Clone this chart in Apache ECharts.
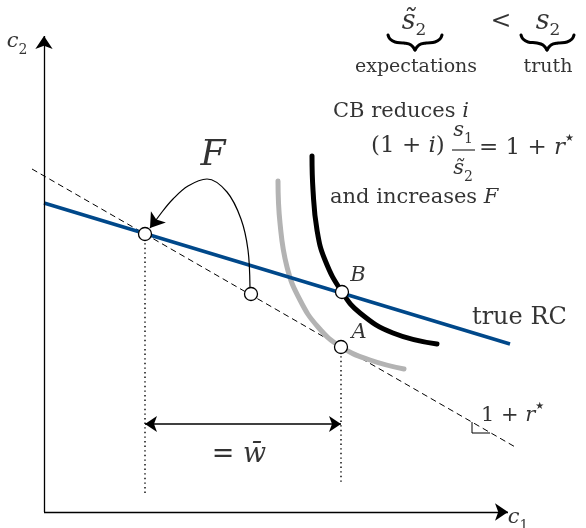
<!DOCTYPE html>
<html><head><meta charset="utf-8">
<script src="https://cdn.jsdelivr.net/npm/echarts@6/dist/echarts.min.js"></script>
<style>html,body{margin:0;padding:0;background:#fff}#c{width:586px;height:528px}</style>
</head><body><div id="c"></div>
<script>
// Diagram units: c1 on x, c2 on y (origin at the axes' corner)
const xMin = -44, xMax = 542, yMin = -16, yMax = 512;
const c1Axis = [[0, 0], [464, 0]];
const c2Axis = [[0, 0], [0, 476]];
const trueRC = [[0, 309], [466, 168]];
const expectedRC = [[-12, 343], [473, 64]];
const indiffHigh = [[268, 356], [269, 322], [273, 282], [281, 252], [298, 220], [316, 199], [349, 179], [393, 168]];
const indiffLow = [[234, 331], [236, 289], [243, 245], [256, 212], [274, 185], [297, 165], [326, 152], [360, 143]];
const points = [[101, 278], [207, 218], [298, 220], [297, 165]];
const dropLineLeft = [[101, 278], [101, 19]];
const dropLineRight = [[297, 165], [297, 29]];
const wBarArrow = [[101, 88], [297, 88]];
const fCurve = [[206, 224], [204, 262], [197, 293], [183, 320], [163, 333], [144, 326], [129, 313], [118, 300]];
const fArrowHead = [[118, 300], [106, 284]];
const slopeMark = [[428, 90], [428, 79], [446, 79]];
const fracBar = [[408, 362], [431, 362]];
const brace1L = [[344, 477], [346, 473], [351, 470], [360, 469], [367, 467], [371, 462]];
const brace1R = [[371, 462], [375, 467], [382, 469], [391, 470], [396, 473], [398, 477]];
const brace2L = [[477, 477], [479, 473], [484, 470], [493, 469], [499, 467], [503, 462]];
const brace2R = [[503, 462], [507, 467], [514, 469], [523, 470], [528, 473], [530, 477]];

// text annotations: [x, y, rich text, anchor]
const labels = [
  [-27, 470, '{i|c}{sub|2}', 'c'],
  [474, -6, '{i|c}{sub|1}', 'c'],
  [169, 356, '{F|F}', 'c'],
  [314, 236, '{i|B}', 'c'],
  [315, 179, '{i|A}', 'c'],
  [428, 194, '{t|true RC}', 'l'],
  [437, 96, '{n|1 + }{i|r}{sup|★}', 'l'],
  [195, 57, '{w|= }{wi|w\u0304}', 'c'],
  [289, 400, '{n|CB reduces }{i|i}', 'l'],
  [327, 366, '{m|(1 + }{mi|i}{m|)}', 'l'],
  [419, 381, '{i|s}{sub|1}', 'c'],
  [419, 343, '{i|s\u0303}{sub|2}', 'c'],
  [435, 364, '{m|= 1 + }{mi|r}{sup|★}', 'l'],
  [286, 314, '{n|and increases }{i|F}', 'l'],
  [370, 490, '{ti|s\u0303}{tsub|2}', 'c'],
  [457, 491, '{tn|<}', 'c'],
  [504, 490, '{ti|s}{tsub|2}', 'c'],
  [372, 445, '{s|expectations}', 'c'],
  [504, 445, '{s|truth}', 'c']
];

const FONT = 'DejaVu Serif';
const rich = {
  n: {fontFamily: FONT, fontSize: 21, lineHeight: 30, color: '#000'},
  m: {fontFamily: FONT, fontSize: 23, lineHeight: 30, color: '#000'},
  mi: {fontFamily: FONT, fontSize: 23, lineHeight: 30, fontStyle: 'italic', color: '#000'},
  t: {fontFamily: FONT, fontSize: 24, lineHeight: 30, color: '#000'},
  i: {fontFamily: FONT, fontSize: 21, lineHeight: 30, fontStyle: 'italic', color: '#000'},
  sub: {fontFamily: FONT, fontSize: 14, lineHeight: 14, verticalAlign: 'bottom', color: '#000'},
  sup: {fontFamily: 'DejaVu Sans', fontSize: 10, lineHeight: 14, verticalAlign: 'top', color: '#000'},
  tn: {fontFamily: FONT, fontSize: 25, lineHeight: 34, color: '#000'},
  ti: {fontFamily: FONT, fontSize: 27, lineHeight: 34, fontStyle: 'italic', color: '#000'},
  tsub: {fontFamily: FONT, fontSize: 17, lineHeight: 17, verticalAlign: 'bottom', color: '#000'},
  F: {fontFamily: FONT, fontSize: 36, fontStyle: 'italic', color: '#000'},
  w: {fontFamily: FONT, fontSize: 27, color: '#000'},
  wi: {fontFamily: FONT, fontSize: 27, fontStyle: 'italic', color: '#000'},
  s: {fontFamily: FONT, fontSize: 19, color: '#000'}
};

function line(data, style, extra) {
  return Object.assign({type: 'line', data: data, symbol: 'none', clip: false, silent: true,
    lineStyle: style, z: 3}, extra || {});
}
function arrow(coords, ends, size, width) {
  return {
    type: 'lines', coordinateSystem: 'cartesian2d', silent: true, z: 6,
    symbol: ends, symbolSize: size,
    lineStyle: {color: '#000', width: width, opacity: 1},
    data: [{coords: coords}]
  };
}

const series = [
  arrow(c1Axis, ['none', 'arrow'], 13, 1.3),
  arrow(c2Axis, ['none', 'arrow'], 13, 1.3),
  line(expectedRC, {color: '#000', width: 1, type: [6, 4]}),
  line(dropLineLeft, {color: '#000', width: 1.4, type: [1.4, 3.2]}),
  line(dropLineRight, {color: '#000', width: 1.4, type: [1.4, 3.2]}),
  line(indiffLow, {color: '#b3b3b3', width: 5, cap: 'round'}, {smooth: 0.45, z: 4}),
  line(indiffHigh, {color: '#000', width: 5, cap: 'round'}, {smooth: 0.45, z: 4}),
  line(trueRC, {color: '#00488a', width: 3.5}, {z: 5}),
  line(fCurve, {color: '#000', width: 1.2}, {smooth: 0.35, z: 6}),
  line(slopeMark, {color: '#000', width: 1}),
  line(fracBar, {color: '#000', width: 1}),
  line(brace1L, {color: '#000', width: 3, cap: 'round'}, {smooth: 0.4}),
  line(brace1R, {color: '#000', width: 3, cap: 'round'}, {smooth: 0.4}),
  line(brace2L, {color: '#000', width: 3, cap: 'round'}, {smooth: 0.4}),
  line(brace2R, {color: '#000', width: 3, cap: 'round'}, {smooth: 0.4}),
  arrow(wBarArrow, ['arrow', 'arrow'], 12, 1.5),
  arrow(fArrowHead, ['none', 'arrow'], 14, 1.2),
  {
    type: 'scatter', data: points, symbol: 'circle', symbolSize: 13, clip: false, silent: true, z: 10,
    itemStyle: {color: '#fff', borderColor: '#000', borderWidth: 1.3, opacity: 1}
  },
  {
    type: 'scatter', symbolSize: 0, clip: false, silent: true, z: 12,
    data: labels.map(l => ({
      value: [l[0], l[1]],
      label: {
        show: true, formatter: l[2], rich: rich,
        position: l[3] === 'l' ? 'right' : 'inside', distance: 0
      }
    }))
  }
];

const axisHidden = {type: 'value', show: false, splitLine: {show: false}};

const chart = echarts.init(document.getElementById('c'), null, {renderer: 'canvas'});
chart.setOption({
  animation: false,
  backgroundColor: '#fff',
  grid: {left: 0, right: 0, top: 0, bottom: 0, containLabel: false},
  xAxis: Object.assign({}, axisHidden, {min: xMin, max: xMax}),
  yAxis: Object.assign({}, axisHidden, {min: yMin, max: yMax}),
  series: series
});
</script></body></html>
